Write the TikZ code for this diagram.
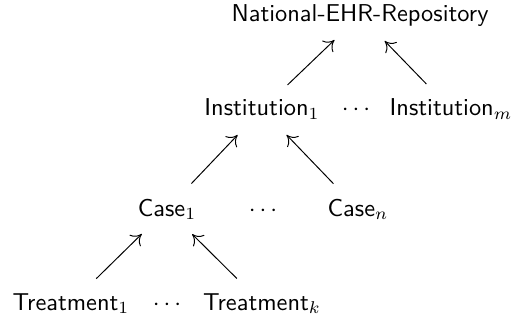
\documentclass[tikz,border=0pt]{standalone}
\usetikzlibrary{arrows.meta, positioning}
\begin{document}
\begin{tikzpicture}[x=0.41pt, y=-0.41pt]

\tikzset{item/.style = {font=\sffamily, anchor=base, inner sep=0pt}}
\tikzset{edge/.style = {-{Computer Modern Rightarrow[length=4pt, width=6.5pt]}, shorten <= 14.5pt, shorten >= 14.5pt}}
\useasboundingbox (0,0) rectangle (528,320);
% levels
\node[item] (ehr) at (360,21.5) {National-EHR-Repository};
\node[item] (inst1) at (262,116) {Institution$_1$};
\node[item] (dots1) at (356,116) {$\cdots$};
\node[item] (instm) at (451,116) {Institution$_m$};
\node[item] (case1) at (167,216) {Case$_1$};
\node[item] (dots2) at (263,216) {$\cdots$};
\node[item] (casen) at (358,216) {Case$_n$};
\node[item] (treat1) at (71,310) {Treatment$_1$};
\node[item] (dots3) at (167,310) {$\cdots$};
\node[item] (treatk) at (262,310) {Treatment$_k$};
%edges
\draw [edge] (inst1.center) -- (ehr.center);
\draw [edge] (instm.center) -- (ehr.center);
\draw [edge] (case1.center) -- (inst1.center);
\draw [edge] (casen.center) -- (inst1.center);
\draw [edge] (treat1.center) -- (case1.center);
\draw [edge] (treatk.center) -- (case1.center);
\end{tikzpicture}
\end{document}
